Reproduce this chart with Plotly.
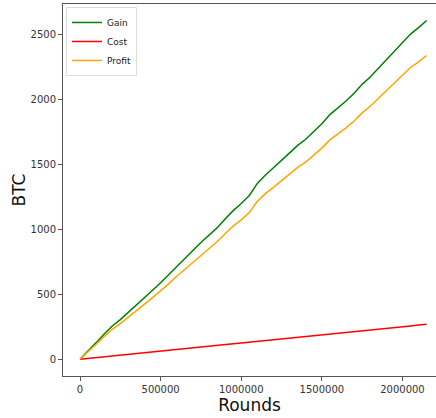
import plotly.graph_objects as go

rounds = [i * 50000 for i in range(44)]
gain = [0, 62, 128, 195, 256, 305, 360, 418, 475, 532, 590, 650, 715, 775, 838, 900,
        955, 1012, 1080, 1145, 1200, 1262, 1355, 1420, 1475, 1530, 1590, 1648, 1695,
        1755, 1815, 1885, 1935, 1990, 2050, 2118, 2175, 2240, 2310, 2375, 2440, 2505,
        2555, 2610]
cost = [0, 6, 13, 19, 25, 31, 38, 44, 50, 57, 63, 69, 75, 82, 88, 94, 100, 107, 113,
        119, 126, 132, 138, 144, 151, 157, 163, 170, 176, 182, 188, 195, 201, 207, 214,
        220, 226, 232, 239, 245, 251, 257, 264, 270]
profit = [0, 56, 115, 176, 231, 274, 322, 374, 425, 475, 527, 581, 640, 693, 750, 806,
          855, 905, 967, 1026, 1074, 1130, 1217, 1276, 1324, 1373, 1427, 1478, 1519,
          1573, 1627, 1690, 1734, 1783, 1836, 1898, 1949, 2008, 2071, 2130, 2189, 2248,
          2291, 2340]

x_ticks = [0, 500000, 1000000, 1500000, 2000000]
y_ticks = [0, 500, 1000, 1500, 2000, 2500]

fig = go.Figure()
fig.add_trace(go.Scatter(x=rounds, y=gain, mode="lines", name="Gain",
                         line=dict(color="green", width=1.5)))
fig.add_trace(go.Scatter(x=rounds, y=cost, mode="lines", name="Cost",
                         line=dict(color="red", width=1.5)))
fig.add_trace(go.Scatter(x=rounds, y=profit, mode="lines", name="Profit",
                         line=dict(color="orange", width=1.5)))

axis_common = dict(showgrid=False, zeroline=False, showline=True, linecolor="#555",
                   linewidth=1, ticks="outside", ticklen=4, tickcolor="#555",
                   automargin=False,
                   tickfont=dict(family="DejaVu Sans", size=10, color="#333"))

fig.update_layout(
    width=436, height=418,
    margin=dict(l=63, r=0, t=4, b=42),
    paper_bgcolor="white", plot_bgcolor="white",
    font=dict(family="DejaVu Sans"),
    showlegend=True,
    legend=dict(x=0.008, y=0.992, xanchor="left", yanchor="top",
                bgcolor="rgba(255,255,255,0.9)", bordercolor="#ddd", borderwidth=1,
                font=dict(size=9, color="#222"), tracegroupgap=0,
                itemwidth=30),
    xaxis=dict(range=[-105500, 2208000], tickvals=x_ticks,
               ticktext=[str(v) for v in x_ticks], mirror=True,
               title=dict(text="Rounds", font=dict(size=17, color="#111"), standoff=4),
               **axis_common),
    yaxis=dict(range=[-129, 2737], tickvals=y_ticks,
               ticktext=[str(v) for v in y_ticks],
               title=dict(text="BTC", font=dict(size=17, color="#111"), standoff=0),
               **axis_common),
)

fig.write_html("out.html",
               config={"displayModeBar": False},
               post_script="document.body.style.margin='0';document.body.style.overflow='hidden';")
